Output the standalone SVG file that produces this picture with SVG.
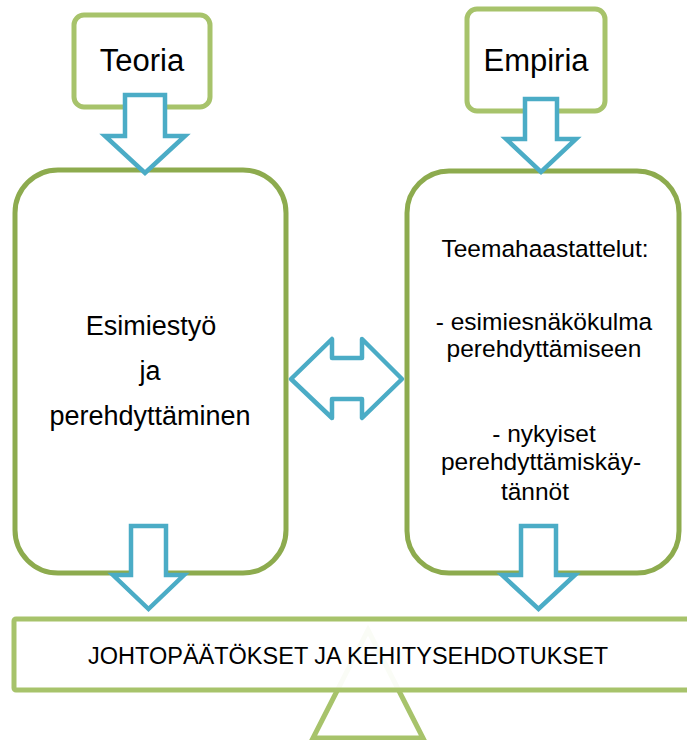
<svg xmlns="http://www.w3.org/2000/svg" width="687" height="740" viewBox="0 0 687 740">
<style>
.lt{fill:#fff;stroke:#a7c36b;stroke-width:5}
.dk{fill:#fff;stroke:#8dab4e;stroke-width:5}
.ar{fill:#fff;stroke:#4bacc6;stroke-width:4.5;stroke-linejoin:miter}
text{font-family:"Liberation Sans",Arial,sans-serif;fill:#000;text-anchor:middle}
.t1{font-size:31px}
.t2{font-size:27px}
.t3{font-size:24.5px}
.t4{font-size:23.5px;text-anchor:start}
</style>
<rect width="687" height="740" fill="#fff"/>
<g id="triangle"><polygon points="368,630 423,738 313,738" fill="none" stroke="#a7c36b" stroke-width="5"/></g>
<g id="teoria"><rect class="lt" x="74" y="15" width="136" height="92" rx="10"/><text class="t1" x="142" y="71">Teoria</text></g>
<g id="empiria"><rect class="lt" x="467" y="9" width="138" height="102" rx="10"/><text class="t1" x="536" y="71">Empiria</text></g>
<g id="esimiestyo"><rect class="dk" x="15" y="170" width="271" height="403" rx="43"/>
<text class="t2" x="151" y="335">Esimiestyö</text><text class="t2" x="150" y="380">ja</text><text class="t2" x="150" y="425">perehdyttäminen</text></g>
<g id="teemahaastattelut"><rect class="dk" x="407" y="171" width="272" height="402" rx="42"/>
<text class="t3" x="545" y="257">Teemahaastattelut:</text>
<text class="t3" x="544" y="330">- esimiesnäkökulma</text>
<text class="t3" x="544" y="357">perehdyttämiseen</text>
<text class="t3" x="544" y="442">- nykyiset</text>
<text class="t3" x="541" y="470">perehdyttämiskäy-</text>
<text class="t3" x="535" y="500">tännöt</text></g>
<g id="johtopaatokset"><rect x="14" y="619" width="690" height="71" rx="2" fill="#fff" fill-opacity="0.94" stroke="#a7c36b" stroke-width="5"/>
<text class="t4" x="88" y="664">JOHTOPÄÄTÖKSET JA KEHITYSEHDOTUKSET</text></g>
<g id="connectors">
<polygon class="ar" points="125,95 165,95 165,136 185,136 145,173 105,136 125,136"/>
<polygon class="ar" points="525,99 557,99 557,139 576,139 541,172 506,139 525,139"/>
<polygon class="ar" points="131,526 166,526 166,575 184,575 148.5,609 113,575 131,575"/>
<polygon class="ar" points="521,526 556,526 556,575 575,575 538.5,609 502,575 521,575"/>
<polygon class="ar" style="stroke-linejoin:round" points="291,379 332,339 332,358 362,358 362,339 402,379 362,418 362,399 332,399 332,418"/>
</g>
</svg>
